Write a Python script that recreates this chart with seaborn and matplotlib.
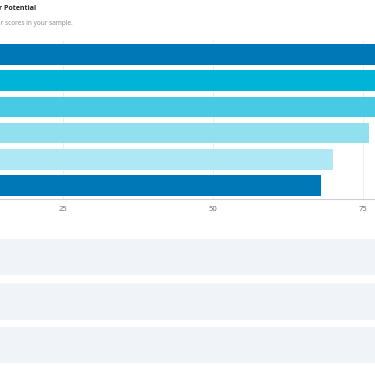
import matplotlib
matplotlib.use("Agg")
import matplotlib.pyplot as plt
import seaborn as sns
from matplotlib.patches import Rectangle

# --- data ---
categories = ["Item 1", "Item 2", "Item 3", "Item 4", "Item 5", "Item 6"]
scores = [88, 84, 80, 76, 70, 68]
bar_colors = ["#0077b6", "#00b4d8", "#48cae4", "#90e0ef", "#ade8f4", "#0077b6"]
x_ticks = [25, 50, 75]

title_text = "r Potential"
subtitle_text = "ir scores in your sample."

W, H = 375, 366

sns.set_theme(style="white")
plt.rcParams["font.family"] = ["Open Sans", "DejaVu Sans"]

fig = plt.figure(figsize=(W / 100, H / 100), dpi=100)
fig.patch.set_facecolor("white")


def fy(px):
    return 1 - px / H


# placeholder bands under the chart
for top, bottom in [(239, 275), (283, 319.5), (327, 363)]:
    fig.patches.append(Rectangle((0, fy(bottom)), 1, (bottom - top) / H,
                                 transform=fig.transFigure,
                                 facecolor="#f0f3f8", edgecolor="none", zorder=0))

ax = fig.add_axes([0, fy(199), 1, (199 - 41) / H])
sns.barplot(x=scores, y=categories, hue=categories, palette=bar_colors,
            legend=False, width=0.78, saturation=1, linewidth=0, ax=ax)

ax.set_xlim(87.3 / 6, (W + 87.3) / 6)
ax.set_ylim(5.515, -0.515)
ax.set_xticks(x_ticks)
ax.set_yticks([])
ax.set_xlabel("")
ax.set_ylabel("")
ax.xaxis.grid(True, color="#ececec", linewidth=0.6)
ax.set_axisbelow(True)
for side in ["top", "right", "left"]:
    ax.spines[side].set_visible(False)
ax.spines["bottom"].set_color("#cfcfcf")
ax.spines["bottom"].set_linewidth(0.8)
ax.tick_params(axis="x", length=3, width=0.6, color="#cfcfcf",
               labelsize=5.5, labelcolor="#666666", pad=2)
ax.set_facecolor("none")

fig.text(-1 / W, fy(9), title_text, fontsize=5, fontweight="bold",
         color="#222222", va="center", ha="left")
fig.text(-1 / W, fy(23.5), subtitle_text, fontsize=4.7, color="#888888",
         va="center", ha="left")

fig.savefig("out.png", dpi=100)
